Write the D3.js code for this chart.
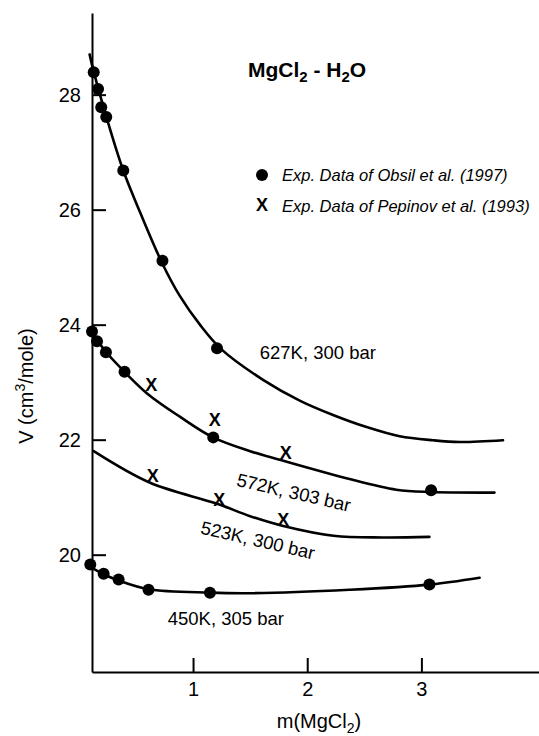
<!DOCTYPE html>
<html>
<head>
<meta charset="utf-8">
<script src="https://cdn.jsdelivr.net/npm/d3@7"></script>
<style>
  html, body { margin: 0; padding: 0; background: #fff; }
  svg { display: block; font-family: "Liberation Sans", Arial, Helvetica, sans-serif; }
</style>
</head>
<body>
<svg id="chart" width="539" height="736"></svg>
<script>
// Apparent molar volume V (cm3/mole) of MgCl2 in water against molality m(MgCl2)

// Experimental points, Obsil et al. (1997): [m, V]
const obsil627 = [[0.13, 28.39], [0.168, 28.10], [0.196, 27.78], [0.24, 27.61], [0.389, 26.68], [0.732, 25.11], [1.21, 23.59]];
const obsil572 = [[0.115, 23.88], [0.159, 23.71], [0.237, 23.52], [0.40, 23.18], [1.177, 22.04], [3.085, 21.12]];
const obsil450 = [[0.10, 19.83], [0.217, 19.67], [0.348, 19.57], [0.61, 19.39], [1.148, 19.34], [3.07, 19.48]];

// Experimental points, Pepinov et al. (1993): [m, V]
const pepinov572 = [[0.633, 22.96], [1.19, 22.35], [1.812, 21.78]];
const pepinov523 = [[0.648, 21.37], [1.23, 20.96], [1.79, 20.62]];

// Model curves: [m, V]
const model627 = [[0.094, 28.70], [0.13, 28.40], [0.24, 27.62], [0.389, 26.68], [0.537, 25.95], [0.732, 25.06], [0.884, 24.50], [1.06, 24.00], [1.249, 23.57], [1.613, 23.04], [1.934, 22.68], [2.226, 22.43], [2.52, 22.22], [2.81, 22.06], [3.10, 21.99], [3.335, 21.96], [3.715, 21.99]];
const model572 = [[0.115, 23.86], [0.24, 23.52], [0.40, 23.18], [0.60, 22.80], [0.884, 22.40], [1.175, 22.04], [1.5, 21.80], [1.759, 21.65], [2.343, 21.33], [2.78, 21.13], [3.087, 21.09], [3.64, 21.08]];
const model523 = [[0.13, 21.80], [0.624, 21.25], [1.205, 20.89], [1.5, 20.67], [1.79, 20.50], [2.23, 20.33], [2.66, 20.30], [3.07, 20.31]];
const model450 = [[0.115, 19.77], [0.217, 19.66], [0.348, 19.55], [0.61, 19.40], [1.148, 19.34], [1.5, 19.33], [2.37, 19.39], [3.07, 19.48], [3.51, 19.60]];

// Curve captions
const curveNames = ["627K, 300 bar", "572K, 303 bar", "523K, 300 bar", "450K, 305 bar"];

// Axis ticks
const xTicks = [1, 2, 3];
const yTicks = [20, 22, 24, 26, 28];

// Legend entries
const legendNames = ["Exp. Data of Obsil et al. (1997)", "Exp. Data of Pepinov et al. (1993)"];

const svg = d3.select("#chart");

const x = d3.scaleLinear().domain([0.115, 4.03]).range([92, 539]);
const y = d3.scaleLinear().domain([17.96, 29.42]).range([672, 13]);

// axes, ticks pointing into the plot
const gx = svg.append("g")
  .attr("transform", `translate(0,${y.range()[0]})`)
  .call(d3.axisBottom(x).tickValues(xTicks).tickFormat(d3.format("d"))
    .tickSize(-14).tickSizeOuter(0).tickPadding(10));
const gy = svg.append("g")
  .attr("transform", `translate(${x.range()[0]},0)`)
  .call(d3.axisLeft(y).tickValues(yTicks).tickFormat(d3.format("d"))
    .tickSize(-14).tickSizeOuter(0).tickPadding(11));

[gx, gy].forEach(g => {
  g.select(".domain").attr("stroke", "#000").attr("stroke-width", 2);
  g.selectAll(".tick line").attr("stroke", "#000").attr("stroke-width", 2);
  g.selectAll(".tick text").attr("fill", "#000").attr("font-size", 20)
    .attr("font-family", "'Liberation Sans', Arial, sans-serif");
});

// model curves
const line = d3.line().x(d => x(d[0])).y(d => y(d[1])).curve(d3.curveCatmullRom.alpha(0.5));
[model627, model572, model523, model450].forEach(c => {
  svg.append("path")
    .datum(c)
    .attr("d", line)
    .attr("fill", "none")
    .attr("stroke", "#000")
    .attr("stroke-width", 2.6)
    .attr("stroke-linecap", "round");
});

// Obsil et al. points
svg.append("g").selectAll("circle")
  .data([...obsil627, ...obsil572, ...obsil450])
  .join("circle")
  .attr("cx", d => x(d[0]))
  .attr("cy", d => y(d[1]))
  .attr("r", 6)
  .attr("fill", "#000");

// Pepinov et al. points
svg.append("g").selectAll("text")
  .data([...pepinov572, ...pepinov523])
  .join("text")
  .attr("x", d => x(d[0]))
  .attr("y", d => y(d[1]))
  .attr("dy", "0.36em")
  .attr("text-anchor", "middle")
  .attr("font-size", 18)
  .attr("font-weight", "bold")
  .text("X");

// curve captions: [m, V, rotation]
const captionPlace = [[1.584, 23.40, 0], [1.374, 21.20, 13], [1.059, 20.37, 13], [0.778, 18.78, 0]];
svg.append("g").selectAll("text")
  .data(curveNames)
  .join("text")
  .attr("transform", (d, i) => {
    const p = captionPlace[i];
    return `translate(${x(p[0])},${y(p[1])}) rotate(${p[2]})`;
  })
  .attr("font-size", 18.5)
  .text(d => d);

// title
const title = svg.append("text")
  .attr("x", 248).attr("y", 77)
  .attr("font-size", 21)
  .attr("font-weight", "bold");
title.append("tspan").text("MgCl");
title.append("tspan").attr("dy", 5).attr("font-size", 15).text("2");
title.append("tspan").attr("dy", -5).text(" - H");
title.append("tspan").attr("dy", 5).attr("font-size", 15).text("2");
title.append("tspan").attr("dy", -5).text("O");

// legend
const legend = svg.append("g").attr("transform", "translate(262,175)");
legend.append("circle").attr("cx", 0).attr("cy", 0).attr("r", 6).attr("fill", "#000");
legend.append("text").attr("x", 0).attr("y", 30).attr("dy", "0.36em")
  .attr("text-anchor", "middle").attr("font-size", 18).attr("font-weight", "bold").text("X");
legend.selectAll("text.entry")
  .data(legendNames)
  .join("text")
  .attr("class", "entry")
  .attr("x", 20)
  .attr("y", (d, i) => 5.5 + i * 31)
  .attr("font-size", 16.5)
  .attr("font-style", "italic")
  .text(d => d);

// axis titles
const xl = svg.append("text")
  .attr("x", 319).attr("y", 728)
  .attr("text-anchor", "middle")
  .attr("font-size", 20);
xl.append("tspan").text("m(MgCl");
xl.append("tspan").attr("dy", 5).attr("font-size", 14).text("2");
xl.append("tspan").attr("dy", -5).text(")");

const yl = svg.append("text")
  .attr("transform", "translate(33,386) rotate(-90)")
  .attr("text-anchor", "middle")
  .attr("font-size", 20);
yl.append("tspan").text("V (cm");
yl.append("tspan").attr("dy", -8).attr("font-size", 14).text("3");
yl.append("tspan").attr("dy", 8).text("/mole)");
</script>
</body>
</html>
